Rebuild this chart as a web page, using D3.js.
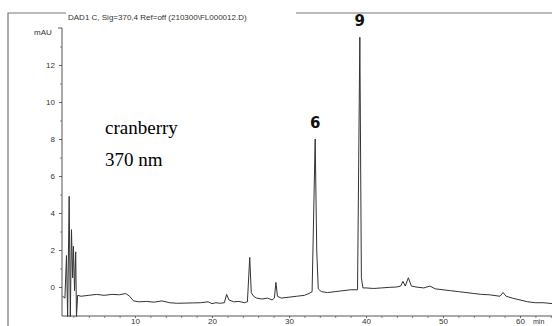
<!DOCTYPE html>
<html lang="en">
<head>
<meta charset="UTF-8">
<title>DAD1 C chromatogram</title>
<script src="https://d3js.org/d3.v7.min.js"></script>
<style>
  body { margin: 0; background: #fff; }
  .tick text { font-family: Arial, "Liberation Sans", sans-serif; }
</style>
</head>
<body>
<div id="chart"></div>
<script>
// retention time (min) and absorbance (mAU)
var times = [0.6, 0.9, 1.1, 1.25, 1.45, 1.6, 1.75, 1.9, 2.0, 2.15, 2.3, 2.4, 2.55,
  3, 4, 5, 6, 7, 8, 8.8, 9.3, 9.8, 10.5, 11.5, 12.5, 13.5, 14.5, 15.5, 16.5, 17.5,
  18.5, 19.5, 20, 20.5, 21, 21.6, 21.9, 22.2, 22.8, 23.5, 24.2, 24.6, 24.9, 25.1,
  25.4, 25.8, 26.5, 27.2, 27.8, 28.1, 28.3, 28.5, 29, 30, 31, 32, 32.6, 33.0,
  33.4, 33.6, 33.8, 34.2, 35, 36, 37, 38, 38.9, 39.2, 39.4, 39.6, 40, 41, 42, 43,
  44, 44.5, 44.8, 45.1, 45.5, 45.9, 46.5, 47.5, 48.3, 49, 50, 51, 52, 53, 54, 55,
  56, 57.4, 57.8, 58.2, 59, 60, 61, 62, 63, 64.3];
var mau = [-0.5, -0.6, 1.7, -1.6, 4.9, -1.6, 3.1, 0.5, 2.2, -0.2, 1.9, -1.6, -0.45,
  -0.5, -0.45, -0.4, -0.45, -0.4, -0.42, -0.35, -0.5, -0.75, -0.8, -0.78, -0.82, -0.75, -0.85, -0.88, -0.87, -0.86,
  -0.85, -0.8, -0.9, -0.85, -0.88, -0.85, -0.4, -0.7, -0.8, -0.78, -0.85, -0.8, 1.6, -0.3,
  -0.5, -0.6, -0.65, -0.6, -0.7, -0.6, 0.25, -0.5, -0.6, -0.55, -0.5, -0.45, -0.35, -0.25,
  8.0, 2.0, -0.1, -0.25, -0.3, -0.25, -0.2, -0.15, -0.15, 13.5, 0.5, -0.05, -0.05, -0.08, -0.05, -0.02,
  0.0, 0.05, 0.3, 0.05, 0.5, 0.05, 0.0, -0.05, 0.05, -0.1, -0.15, -0.2, -0.25, -0.3, -0.35, -0.4,
  -0.42, -0.5, -0.3, -0.5, -0.6, -0.7, -0.8, -0.85, -0.85, -0.9];

var yTicks = [0, 2, 4, 6, 8, 10, 12];
var xTicks = [10, 20, 30, 40, 50, 60];
var peakLabels = ["6", "9"];
var peakTimes = [33.4, 39.2];
var peakHeights = [8.0, 13.5];

var width = 552, height = 326;

var svg = d3.select("#chart").append("svg")
  .attr("width", width)
  .attr("height", height);

var x = d3.scaleLinear().domain([0, 60]).range([58, 520]);
var y = d3.scaleLinear().domain([0, 12]).range([287, 65]);

// scanned page frame
svg.append("path")
  .attr("d", "M8,326V13H66M296,13H552")
  .attr("fill", "none")
  .attr("stroke", "#777")
  .attr("stroke-width", 1.2);

svg.append("text")
  .attr("x", 68).attr("y", 20)
  .attr("font-family", "Arial, 'Liberation Sans', sans-serif")
  .attr("font-size", 8)
  .attr("fill", "#333")
  .text("DAD1 C, Sig=370,4 Ref=off (210300\\FL000012.D)");

svg.append("text")
  .attr("x", 34).attr("y", 35)
  .attr("font-family", "Arial, 'Liberation Sans', sans-serif")
  .attr("font-size", 8)
  .attr("fill", "#333")
  .text("mAU");

// y axis
var yAxis = svg.append("g")
  .attr("transform", "translate(62,0)")
  .call(d3.axisLeft(y).tickValues(yTicks).tickSize(3).tickPadding(4));
yAxis.select(".domain").remove();
yAxis.selectAll("text").attr("font-size", 8).attr("fill", "#333");
yAxis.selectAll("line").attr("stroke", "#666");
svg.append("g")
  .attr("transform", "translate(62,0)")
  .call(d3.axisLeft(y).tickValues([1, 3, 5, 7, 9, 11, 13]).tickSize(2).tickFormat(""))
  .call(function (g) { g.select(".domain").remove(); g.selectAll("line").attr("stroke", "#888"); });
svg.append("path")
  .attr("d", "M58,28H62V316")
  .attr("fill", "none")
  .attr("stroke", "#555");

// x axis
var xAxis = svg.append("g")
  .attr("transform", "translate(0,316)")
  .call(d3.axisBottom(x).tickValues(xTicks).tickSize(2).tickPadding(0));
xAxis.select(".domain").remove();
xAxis.selectAll("text").attr("font-size", 8).attr("fill", "#333");
xAxis.selectAll("line").attr("stroke", "#666");
svg.append("g")
  .attr("transform", "translate(0,316)")
  .call(d3.axisBottom(x).tickValues(d3.range(2, 65, 2).filter(function (d) { return d % 10; })).tickSize(2).tickFormat(""))
  .call(function (g) { g.select(".domain").remove(); g.selectAll("line").attr("stroke", "#888"); });
svg.append("path")
  .attr("d", "M62,316H552")
  .attr("fill", "none")
  .attr("stroke", "#555");
svg.append("text")
  .attr("x", 533).attr("y", 324)
  .attr("font-family", "Arial, 'Liberation Sans', sans-serif")
  .attr("font-size", 7)
  .attr("fill", "#333")
  .text("min");

// trace
var line = d3.line()
  .x(function (d, i) { return x(times[i]); })
  .y(function (d) { return y(d); });

svg.append("path")
  .datum(mau)
  .attr("d", line)
  .attr("fill", "none")
  .attr("stroke", "#333")
  .attr("stroke-width", 1);

// peak numbers
svg.selectAll(".peak")
  .data(peakLabels)
  .enter().append("text")
  .attr("class", "peak")
  .attr("x", function (d, i) { return x(peakTimes[i]); })
  .attr("y", function (d, i) { return y(peakHeights[i]) - 11; })
  .attr("text-anchor", "middle")
  .attr("font-family", "'DejaVu Sans', sans-serif")
  .attr("font-weight", "bold")
  .attr("font-size", 15)
  .attr("fill", "#111")
  .text(function (d) { return d; });

// annotation
var note = svg.append("text")
  .attr("font-family", "'Liberation Serif', 'Times New Roman', serif")
  .attr("font-size", 19)
  .attr("fill", "#000");
note.append("tspan").attr("x", 105).attr("y", 134).text("cranberry");
note.append("tspan").attr("x", 105).attr("y", 166).text("370 nm");
</script>
</body>
</html>
